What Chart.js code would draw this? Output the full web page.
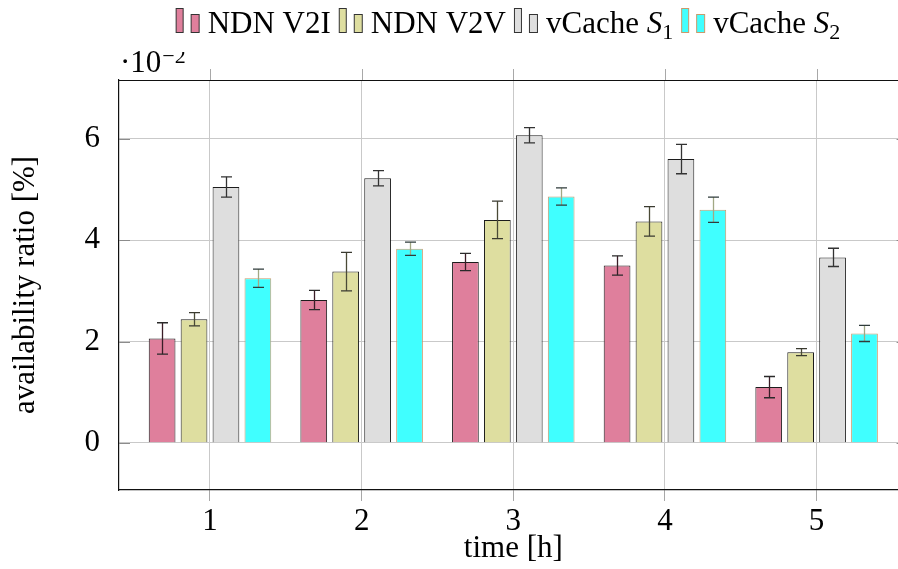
<!DOCTYPE html>
<html>
<head>
<meta charset="utf-8">
<script src="https://cdn.jsdelivr.net/npm/chart.js@4/dist/chart.umd.min.js"></script>
<style>
  html, body { margin: 0; padding: 0; background: #fff; overflow: hidden; }
  #wrap { width: 898px; height: 569px; overflow: hidden; position: relative; }
  canvas { display: block; }
</style>
</head>
<body>
<div id="wrap"><canvas id="chart" width="910" height="569"></canvas></div>
<script>
// Availability ratio per hour (values in units of 10^-2 %), with error half-widths
const hours = [1, 2, 3, 4, 5];
const seriesNames = ['NDN V2I', 'NDN V2V', 'vCache S_1', 'vCache S_2'];

const ndnV2I      = [2.06, 2.82, 3.57, 3.50, 1.10];
const ndnV2IErr   = [0.31, 0.19, 0.17, 0.19, 0.21];
const ndnV2V      = [2.44, 3.38, 4.40, 4.37, 1.79];
const ndnV2VErr   = [0.13, 0.38, 0.37, 0.29, 0.07];
const vCacheS1    = [5.05, 5.22, 6.07, 5.60, 3.66];
const vCacheS1Err = [0.20, 0.15, 0.15, 0.29, 0.18];
const vCacheS2    = [3.25, 3.83, 4.86, 4.60, 2.16];
const vCacheS2Err = [0.18, 0.13, 0.17, 0.25, 0.16];

const xTicks = [1, 2, 3, 4, 5];
const yTicks = [0, 2, 4, 6];
const yExponent = '\u22122';

const seriesValues = [ndnV2I, ndnV2V, vCacheS1, vCacheS2];
const seriesErrors = [ndnV2IErr, ndnV2VErr, vCacheS1Err, vCacheS2Err];

// Styling
const FONT = "'Liberation Serif', 'Times New Roman', serif";
const fills     = ['#df7f9c', '#dedea0', '#dedede', '#40ffff'];
const borders   = ['#1c1c1c', '#1c1c1c', '#1c1c1c', '#c99a6c'];
const errStems  = ['#3a1d27', '#4a4a36', '#333333', '#a2a884'];
const errCaps   = ['#2a2a2a', '#3a3a30', '#333333', '#2f3b3b'];
const GRID = '#c9c9c9';
const TICK = '#8c8c8c';

const datasets = seriesValues.map((vals, i) => ({
  label: seriesNames[i].replace('_', ''),
  data: hours.map((h, j) => ({ x: h, y: vals[j] })),
  errors: seriesErrors[i],
  backgroundColor: fills[i],
  borderColor: borders[i],
  borderWidth: 1,
  categoryPercentage: 0.842,
  barPercentage: 0.837
}));

// Short tick marks on the value gridlines and above the top frame edge
const frameMarks = {
  id: 'frameMarks',
  beforeDatasetsDraw(chart) {
    const { ctx, chartArea: a, scales: { x, y } } = chart;
    ctx.save();
    ctx.lineWidth = 1;
    ctx.strokeStyle = TICK;
    ctx.beginPath();
    yTicks.forEach(v => {
      const py = Math.round(y.getPixelForValue(v)) + 0.5;
      ctx.moveTo(a.left, py); ctx.lineTo(a.left + 11, py);
      ctx.moveTo(a.right - 11, py); ctx.lineTo(a.right, py);
    });
    ctx.stroke();
    ctx.strokeStyle = '#a8a8a8';
    ctx.beginPath();
    xTicks.forEach(v => {
      const px = Math.round(x.getPixelForValue(v)) + 0.5;
      ctx.moveTo(px, a.top - 11); ctx.lineTo(px, a.top);
    });
    ctx.stroke();
    ctx.restore();
  },
  afterDraw(chart) {
    // top edge of the axis frame (left and bottom come from the scale borders)
    const { ctx, chartArea: a } = chart;
    ctx.save();
    ctx.strokeStyle = '#111';
    ctx.lineWidth = 1.2;
    ctx.beginPath();
    ctx.moveTo(a.left, a.top + 0.5);
    ctx.lineTo(a.right, a.top + 0.5);
    ctx.stroke();
    ctx.restore();
  }
};

// Error bars drawn from each bar's centre using the value scale
const errorBars = {
  id: 'errorBars',
  afterDatasetsDraw(chart) {
    const { ctx, scales: { y } } = chart;
    ctx.save();
    ctx.lineWidth = 1.3;
    chart.data.datasets.forEach((ds, i) => {
      const meta = chart.getDatasetMeta(i);
      meta.data.forEach((bar, j) => {
        const v = ds.data[j].y, e = ds.errors[j];
        const top = y.getPixelForValue(v + e);
        const bot = y.getPixelForValue(v - e);
        const cx = Math.round(bar.x) + 0.5;
        ctx.strokeStyle = errStems[i];
        ctx.beginPath();
        ctx.moveTo(cx, top); ctx.lineTo(cx, bot);
        ctx.stroke();
        ctx.strokeStyle = errCaps[i];
        ctx.beginPath();
        ctx.moveTo(cx - 5.5, top); ctx.lineTo(cx + 5.5, top);
        ctx.moveTo(cx - 5.5, bot); ctx.lineTo(cx + 5.5, bot);
        ctx.stroke();
      });
    });
    ctx.restore();
  }
};

// Text with "X_n" rendered as italic X and subscript n
function richParts(text) {
  const m = text.match(/^(.*?)([A-Za-z])_(\w+)$/);
  if (!m) return [{ t: text, f: 'n' }];
  return [{ t: m[1], f: 'n' }, { t: m[2], f: 'i' }, { t: m[3], f: 's' }];
}
function partFont(f, size) {
  if (f === 'i') return `italic ${size}px ${FONT}`;
  if (f === 's') return `${Math.round(size * 0.7)}px ${FONT}`;
  return `${size}px ${FONT}`;
}
function richWidth(ctx, text, size) {
  return richParts(text).reduce((w, p) => { ctx.font = partFont(p.f, size); return w + ctx.measureText(p.t).width; }, 0);
}
function drawRich(ctx, text, x, y, size) {
  richParts(text).forEach(p => {
    ctx.font = partFont(p.f, size);
    ctx.fillText(p.t, x, p.f === 's' ? y + size * 0.22 : y);
    x += ctx.measureText(p.t).width;
  });
}

// Scale exponent above the value axis and the legend row
const annotations = {
  id: 'annotations',
  afterDraw(chart) {
    const { ctx, chartArea: a } = chart;
    ctx.save();
    ctx.fillStyle = '#000';
    ctx.textBaseline = 'alphabetic';
    ctx.textAlign = 'left';
    ctx.font = `31px ${FONT}`;
    const base = '\u00b710';
    ctx.fillText(base, a.left + 1, 72);
    const bw = ctx.measureText(base).width;
    ctx.font = `22px ${FONT}`;
    ctx.fillText(yExponent, a.left + 1 + bw + 1, 63);

    // legend panel
    const size = 31, iconW = 24, gapIcon = 8, gapItem = 8;
    const widths = seriesNames.map(n => richWidth(ctx, n, size));
    const total = widths.reduce((s, w) => s + w + iconW + gapIcon, 0) + gapItem * (seriesNames.length - 1);
    let x = 508 - total / 2;
    ctx.fillStyle = '#fff';
    ctx.fillRect(x - 6, 0, total + 12, 52);
    const baseY = 32.5;
    seriesNames.forEach((n, i) => {
      ctx.fillStyle = fills[i];
      ctx.strokeStyle = i === 3 ? borders[3] : '#333';
      ctx.lineWidth = 1;
      ctx.fillRect(x + 0.5, baseY - 24, 7, 24);
      ctx.strokeRect(x + 0.5, baseY - 24, 7, 24);
      ctx.fillRect(x + 15.5, baseY - 18, 8, 18);
      ctx.strokeRect(x + 15.5, baseY - 18, 8, 18);
      x += iconW + gapIcon;
      ctx.fillStyle = '#000';
      drawRich(ctx, n, x, baseY, size);
      x += widths[i] + gapItem;
    });
    ctx.restore();
  }
};

new Chart(document.getElementById('chart'), {
  type: 'bar',
  data: { datasets },
  plugins: [frameMarks, errorBars, annotations],
  options: {
    responsive: false,
    animation: false,
    devicePixelRatio: 1,
    layout: { padding: { top: 80, right: 2.4, left: 0, bottom: 0 } },
    plugins: { legend: { display: false }, tooltip: { enabled: false } },
    scales: {
      x: {
        type: 'linear',
        offset: false,
        min: 0.4,
        max: 5.6,
        afterBuildTicks: s => { s.ticks = xTicks.map(v => ({ value: v })); },
        afterFit: s => { s.height = 79; },
        grid: { offset: false, color: GRID, lineWidth: 1, drawTicks: true, tickLength: 11, tickColor: '#a8a8a8' },
        border: { display: true, color: '#111', width: 1.2 },
        ticks: { color: '#000', font: { family: FONT, size: 31 }, padding: 2, maxRotation: 0,
                 callback: v => String(v) },
        title: { display: true, text: 'time [h]', color: '#000',
                 font: { family: FONT, size: 31, lineHeight: 1 }, padding: { top: 0, bottom: 5 } }
      },
      y: {
        min: -0.93,
        max: 7.16,
        afterBuildTicks: s => { s.ticks = yTicks.map(v => ({ value: v })); },
        afterFit: s => { s.width = 119; },
        grid: { color: GRID, lineWidth: 1, drawTicks: false },
        border: { display: true, color: '#111', width: 1.2 },
        ticks: { color: '#000', font: { family: FONT, size: 31 }, padding: 19,
                 callback: v => String(v) },
        title: { display: true, text: 'availability ratio [%]', color: '#000',
                 font: { family: FONT, size: 31, lineHeight: 1 }, padding: { top: 10, bottom: 0 } }
      }
    }
  }
});
</script>
</body>
</html>
